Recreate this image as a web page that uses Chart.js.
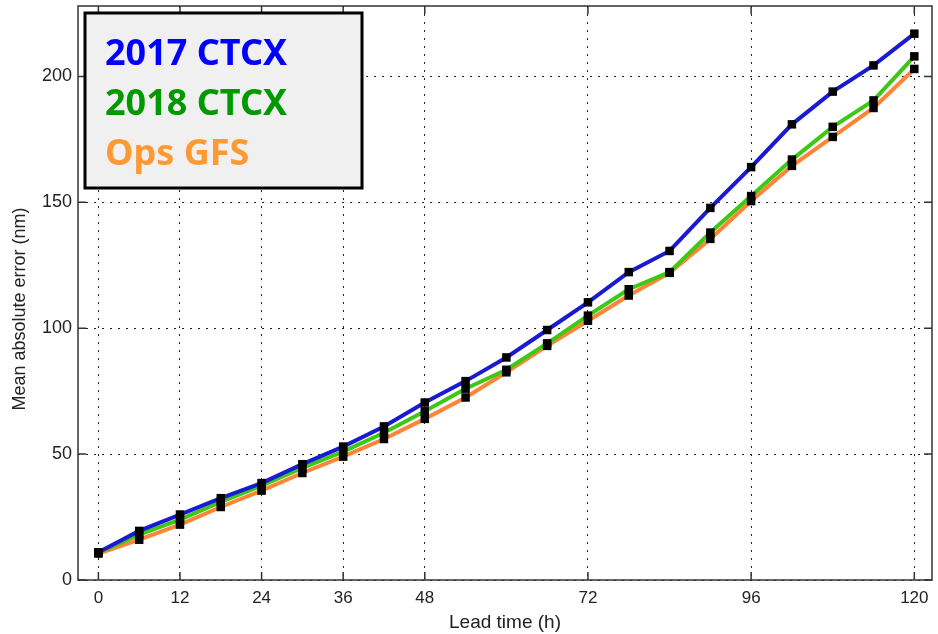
<!DOCTYPE html>
<html>
<head>
<meta charset="utf-8">
<script src="https://cdn.jsdelivr.net/npm/chart.js@4"></script>
<style>
  html, body { margin: 0; padding: 0; background: #fff; }
  #wrap { width: 938px; height: 634px; }
</style>
</head>
<body>
<div id="wrap"><canvas id="errChart" width="938" height="634"></canvas></div>
<script>
// lead times (h) and mean absolute track error (nm)
const leadTimes = [0, 6, 12, 18, 24, 30, 36, 42, 48, 54, 60, 66, 72, 78, 84, 90, 96, 102, 108, 114, 120];
const ctcx2017 = [11, 19.5, 26, 32.5, 38.5, 46, 53, 61, 70.5, 79, 88.4, 99.3, 110.3, 122.3, 130.7, 147.8, 164, 181, 194, 204.4, 217];
const ctcx2018 = [11, 18, 24, 31, 37.5, 44.5, 51, 58.5, 67, 76, 83.5, 94, 105, 115.5, 122.3, 138, 152.5, 167, 180, 190.5, 208];
const opsGfs = [10.5, 16, 22, 29, 35.5, 42.5, 49, 56, 64, 72.5, 82.5, 93, 103, 113, 122, 135.5, 150.5, 164.5, 176, 187.5, 203];

const xTicks = [0, 12, 24, 36, 48, 72, 96, 120];
const yTicks = [0, 50, 100, 150, 200];

const seriesNames = ['2017 CTCX', '2018 CTCX', 'Ops GFS'];
const lineColors = ['#1a1ad2', '#3cc814', '#ff8436'];
const textColors = ['#0000ff', '#009900', '#ff9933'];
const yTitle = 'Mean absolute error (nm)';

function pts(vals) {
  return leadTimes.map((h, i) => ({ x: h, y: vals[i] }));
}

const allSeries = [ctcx2017, ctcx2018, opsGfs];
const datasets = [];
allSeries.forEach((vals, i) => {
  datasets.push({
    label: seriesNames[i],
    data: pts(vals),
    borderColor: lineColors[i],
    borderWidth: 4,
    pointRadius: 0,
    tension: 0,
    order: i + 1
  });
});
allSeries.forEach((vals) => {
  datasets.push({
    label: '',
    data: pts(vals),
    showLine: false,
    pointStyle: 'rect',
    pointRadius: 6,
    pointBackgroundColor: '#000',
    pointBorderWidth: 0,
    order: 0
  });
});

// box around plot + inward tick marks + y title + legend box
const framePlugin = {
  id: 'frame',
  afterDraw(chart) {
    const { ctx, chartArea: a, scales } = chart;
    ctx.save();
    ctx.strokeStyle = '#333';
    ctx.lineWidth = 1.5;
    ctx.strokeRect(a.left, a.top, a.right - a.left, a.bottom - a.top);
    ctx.beginPath();
    xTicks.forEach(v => {
      const px = scales.x.getPixelForValue(v);
      ctx.moveTo(px, a.bottom); ctx.lineTo(px, a.bottom - 8);
      ctx.moveTo(px, a.top); ctx.lineTo(px, a.top + 8);
    });
    yTicks.forEach(v => {
      const py = scales.y.getPixelForValue(v);
      ctx.moveTo(a.left, py); ctx.lineTo(a.left + 8, py);
      ctx.moveTo(a.right, py); ctx.lineTo(a.right - 8, py);
    });
    ctx.stroke();

    // y axis title, a bit below the plot centre like the original
    ctx.save();
    ctx.translate(20, (a.top + a.bottom) / 2 + 16);
    ctx.rotate(-Math.PI / 2);
    ctx.fillStyle = '#222';
    ctx.font = '18px "Liberation Sans", Arial, sans-serif';
    ctx.textAlign = 'center';
    ctx.textBaseline = 'middle';
    ctx.fillText(yTitle, 0, 0);
    ctx.restore();

    // legend
    const bx = a.left + 7, by = a.top + 7;
    ctx.fillStyle = '#f0f0f0';
    ctx.fillRect(bx, by, 277, 175);
    ctx.strokeStyle = '#000';
    ctx.lineWidth = 3;
    ctx.strokeRect(bx, by, 277, 175);
    ctx.font = 'bold 36px "Noto Sans", "Open Sans", sans-serif';
    ctx.textBaseline = 'alphabetic';
    ctx.textAlign = 'left';
    seriesNames.forEach((name, i) => {
      ctx.fillStyle = textColors[i];
      ctx.fillText(name, bx + 20, by + 52 + i * 50);
    });
    ctx.restore();
  }
};

new Chart(document.getElementById('errChart').getContext('2d'), {
  type: 'line',
  data: { datasets: datasets },
  options: {
    responsive: false,
    animation: false,
    layout: { padding: { top: 6, right: -3, left: 0, bottom: 0 } },
    plugins: {
      legend: { display: false },
      tooltip: { enabled: false }
    },
    scales: {
      x: {
        type: 'linear',
        min: -3,
        max: 122.6,
        afterBuildTicks: (scale) => { scale.ticks = xTicks.map(v => ({ value: v })); },
        afterFit: (scale) => {
          scale.height = 54;
          scale.paddingLeft = 0;
          scale.paddingRight = 0;
        },
        grid: { color: '#222', lineWidth: 1, drawTicks: false },
        border: { display: false, dash: [2, 6] },
        ticks: {
          padding: 8,
          color: '#222',
          font: { family: 'Liberation Sans', size: 17 },
          maxRotation: 0
        },
        title: {
          display: true,
          text: 'Lead time (h)',
          color: '#222',
          padding: { top: 0, bottom: 0 },
          font: { family: 'Liberation Sans', size: 19 }
        }
      },
      y: {
        min: 0,
        max: 228,
        afterBuildTicks: (scale) => { scale.ticks = yTicks.map(v => ({ value: v })); },
        afterFit: (scale) => {
          scale.width = 78;
          scale.paddingTop = 0;
          scale.paddingBottom = 0;
        },
        grid: { color: '#222', lineWidth: 1, drawTicks: false },
        border: { display: false, dash: [2, 6] },
        ticks: {
          padding: 6,
          color: '#222',
          font: { family: 'Liberation Sans', size: 18 }
        }
      }
    }
  },
  plugins: [framePlugin]
});
</script>
</body>
</html>
